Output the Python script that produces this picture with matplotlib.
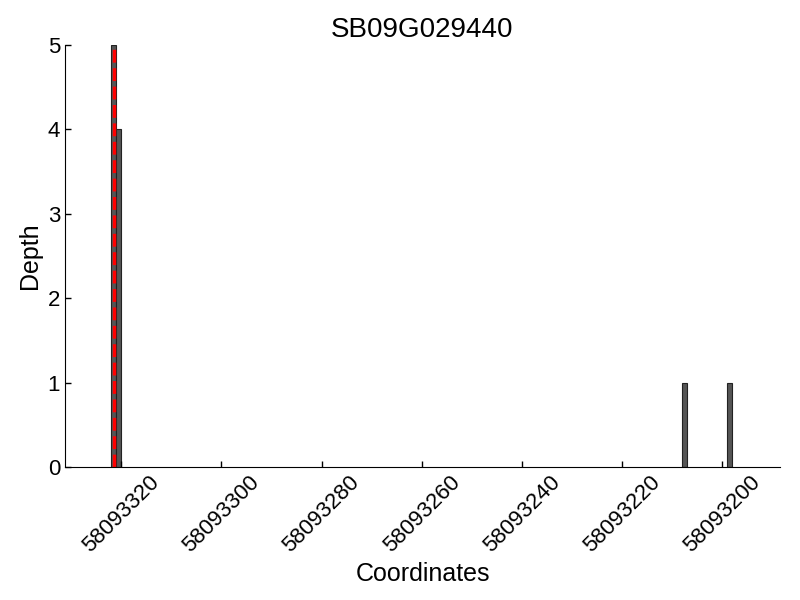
import matplotlib
matplotlib.use("Agg")
import matplotlib.pyplot as plt

# depth per coordinate
coords = [58093321, 58093320, 58093207, 58093198]
depth = [5, 4, 1, 1]
marker_pos = 58093321.5
gene_name = "SB09G029440"
xticks = [58093320, 58093300, 58093280, 58093260, 58093240, 58093220, 58093200]
yticks = [0, 1, 2, 3, 4, 5]

plt.rcParams['font.family'] = ['Liberation Sans', 'DejaVu Sans']

fig = plt.figure(figsize=(8, 6), dpi=100)
ax = fig.add_axes([0.08125, 0.2217, 0.89375, 0.7033])

ax.bar(coords, depth, width=1, align='edge', color='#555555',
       edgecolor='#222222', linewidth=0.8)
ax.axvline(marker_pos, color='red', linestyle='--', linewidth=2.5)

ax.set_xlim(58093331.2, 58093188.5)
ax.set_ylim(0, 5)
ax.set_xticks(xticks)
ax.set_xticklabels([str(t) for t in xticks], rotation=45, fontsize=16)
ax.set_yticks(yticks)
ax.set_yticklabels([str(t) for t in yticks], fontsize=16)
ax.tick_params(direction='in', length=4, width=1)

for side in ('top', 'right'):
    ax.spines[side].set_visible(False)

ax.set_title(gene_name, fontsize=20)
ax.set_xlabel("Coordinates", fontsize=18)
ax.set_ylabel("Depth", fontsize=18)

fig.savefig("out.png", dpi=100)
